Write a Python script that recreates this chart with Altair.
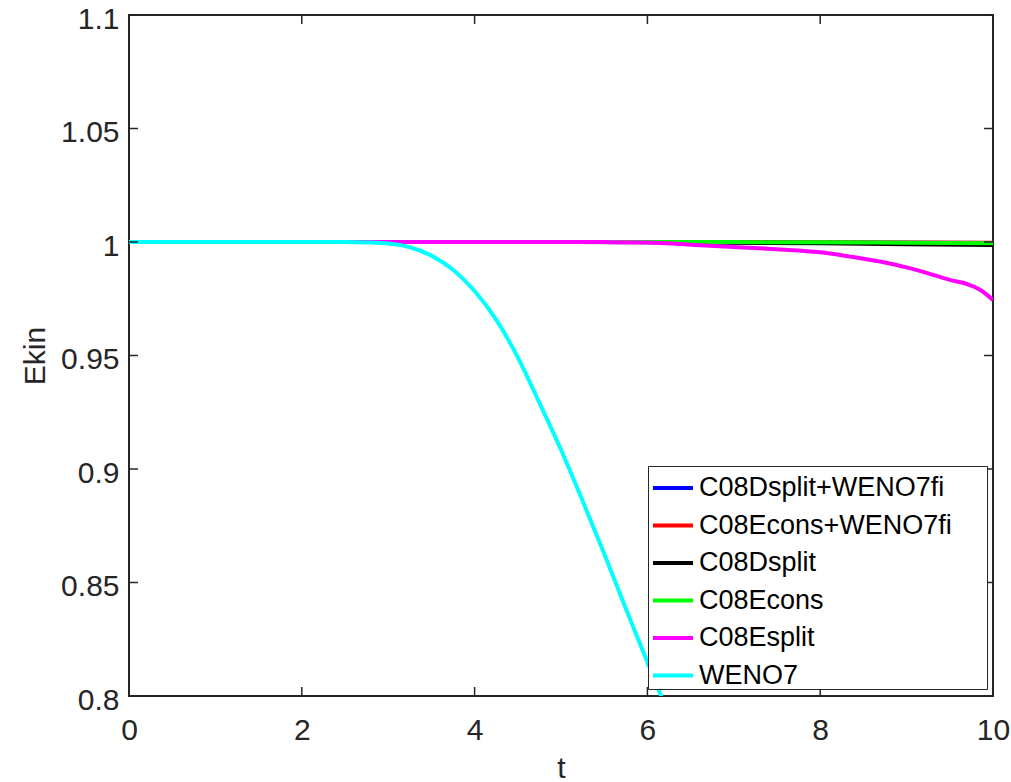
import altair as alt
import pandas as pd

# Kinetic energy histories Ekin(t) for the six schemes
series_names = ["C08Dsplit+WENO7fi", "C08Econs+WENO7fi", "C08Dsplit",
                "C08Econs", "C08Esplit", "WENO7"]
series_colors = ["#0000ff", "#ff0000", "#000000", "#00ff00", "#ff00ff", "#00ffff"]

t_coarse = [0, 1, 2, 3, 4, 5, 6, 7, 8, 9, 10]
e_dsplit_weno = [1, 1, 1, 1, 1, 1, 0.99995, 0.9999, 0.9998, 0.9997, 0.9996]
e_econs_weno = [1, 1, 1, 1, 1, 1, 1, 0.99995, 0.9999, 0.9998, 0.9997]
e_dsplit = [1, 1, 1, 1, 1, 0.99995, 0.9999, 0.9997, 0.9994, 0.999, 0.9987]
e_econs = [1, 1, 1, 1, 1, 1, 1, 0.99995, 0.9999, 0.9997, 0.9995]

t_esplit = [0, 1, 2, 3, 4, 5, 5.5, 6, 6.5, 7, 7.5, 8, 8.25, 8.5, 8.75,
            9, 9.25, 9.5, 9.7, 9.85, 10]
e_esplit = [1, 1, 1, 1, 1, 1, 0.99995, 0.9998, 0.9988, 0.9978, 0.9968,
            0.9955, 0.9942, 0.9926, 0.991, 0.9888, 0.9862, 0.9833, 0.9815,
            0.979, 0.9745]

t_weno = [0, 0.5, 1, 1.5, 2, 2.5, 2.75, 3, 3.25, 3.5, 3.75, 4, 4.25, 4.5,
          4.75, 5, 5.25, 5.5, 5.75, 6, 6.2]
e_weno = [1, 1, 1, 1, 1, 1, 0.9998, 0.9993, 0.9977, 0.994, 0.9878,
          0.9784, 0.9658, 0.9492, 0.9292, 0.9085, 0.886, 0.8627, 0.8385,
          0.815, 0.796]

x_ticks = [0, 2, 4, 6, 8, 10]
y_ticks = [0.8, 0.85, 0.9, 0.95, 1.0, 1.05, 1.1]

W, H = 864, 681
INK = "#262626"
FONT = "Liberation Sans"

frames = []
for name, tt, ee in [
    (series_names[0], t_coarse, e_dsplit_weno),
    (series_names[1], t_coarse, e_econs_weno),
    (series_names[2], t_coarse, e_dsplit),
    (series_names[3], t_coarse, e_econs),
    (series_names[4], t_esplit, e_esplit),
    (series_names[5], t_weno, e_weno),
]:
    frames.append(pd.DataFrame({"t": tt, "E": ee, "scheme": name}))
data = pd.concat(frames, ignore_index=True)

x_enc = alt.X(
    "t:Q",
    scale=alt.Scale(domain=[0, 10], nice=False, zero=False),
    axis=alt.Axis(values=x_ticks, title="t", format="d", labelPadding=19,
                  titlePadding=8),
)
y_enc = alt.Y(
    "E:Q",
    scale=alt.Scale(domain=[0.8, 1.1], nice=False, zero=False),
    axis=alt.Axis(values=y_ticks, title="Ekin", format=".3~g", labelPadding=10,
                  labelOffset=4, titlePadding=10),
)
color_enc = alt.Color(
    "scheme:N",
    scale=alt.Scale(domain=series_names, range=series_colors),
    legend=alt.Legend(
        title=" ", titleOrient="right", titlePadding=35,
        orient="none", legendX=519, legendY=451,
        symbolType="stroke", symbolStrokeWidth=4, symbolSize=1600,
        symbolOffset=3,
        labelFontSize=27, labelFont=FONT, labelColor="#000000",
        labelOffset=4, rowPadding=2.5, padding=0, labelLimit=400,
        strokeColor=INK, fillColor="white", cornerRadius=0,
    ),
)

# one layer per scheme so the drawing order follows the list
lines = [
    alt.Chart(data)
    .transform_filter(alt.datum.scheme == name)
    .mark_line(strokeWidth=4, clip=True, interpolate="monotone")
    .encode(x=x_enc, y=y_enc, color=color_enc)
    for name in series_names
]

xt = pd.DataFrame({"t": x_ticks})
yt = pd.DataFrame({"E": y_ticks})
tick_len = 9

ticks = [
    alt.Chart(xt).mark_rule(color=INK, strokeWidth=1.5).encode(
        x="t:Q", y=alt.value(H), y2=alt.value(H - tick_len)),
    alt.Chart(xt).mark_rule(color=INK, strokeWidth=1.5).encode(
        x="t:Q", y=alt.value(0), y2=alt.value(tick_len)),
    alt.Chart(yt).mark_rule(color=INK, strokeWidth=1.5).encode(
        y="E:Q", x=alt.value(0), x2=alt.value(tick_len)),
    alt.Chart(yt).mark_rule(color=INK, strokeWidth=1.5).encode(
        y="E:Q", x=alt.value(W), x2=alt.value(W - tick_len)),
]

chart = (
    alt.layer(*lines, *ticks)
    .properties(
        width=W, height=H, autosize="none",
        padding={"left": 129, "top": 15, "right": 18, "bottom": 86},
        background="white",
    )
    .configure_view(stroke=INK, strokeWidth=2)
    .configure_axis(
        domain=False, ticks=False, grid=False,
        labelFont=FONT, labelFontSize=30, labelColor=INK,
        labelFlush=False, labelOverlap=False,
        titleFont=FONT, titleFontSize=30, titleColor=INK, titleFontWeight="normal",
    )
)

chart.save("out.html", embed_options={"renderer": "svg", "actions": False})
